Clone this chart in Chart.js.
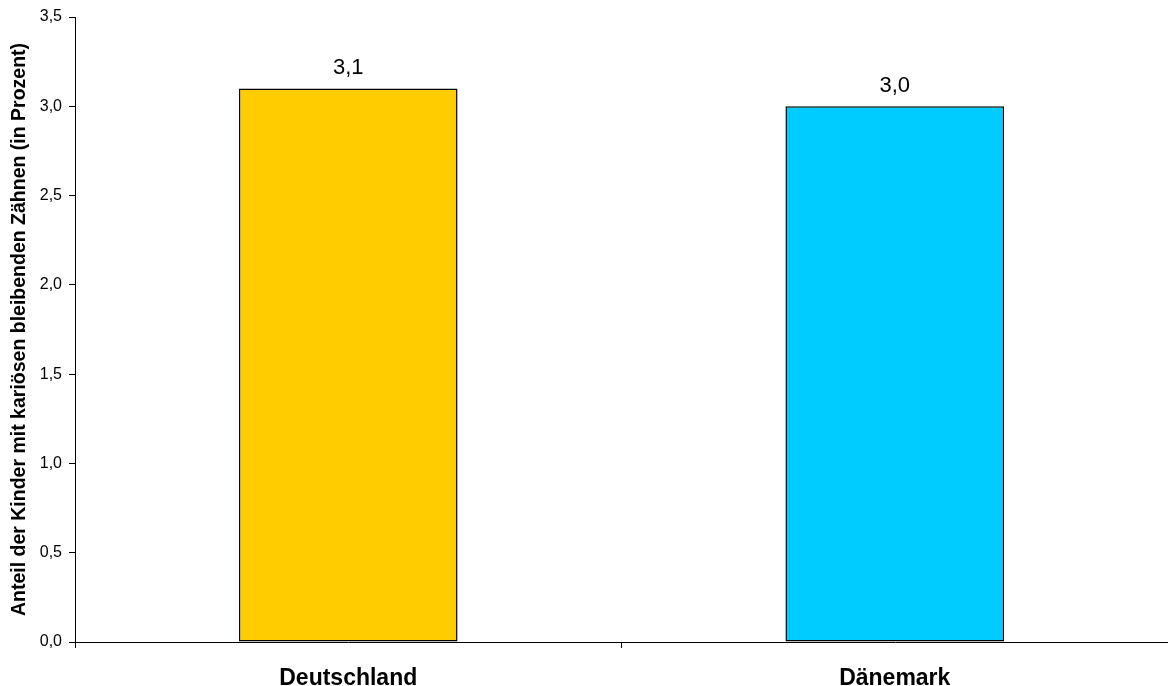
<!DOCTYPE html>
<html>
<head>
<meta charset="utf-8">
<script src="https://cdn.jsdelivr.net/npm/chart.js@4"></script>
<style>
  html, body { margin: 0; padding: 0; background: #fff; }
  #wrap { width: 1168px; height: 686px; }
</style>
</head>
<body>
<div id="wrap"><canvas id="chart" width="1168" height="686"></canvas></div>
<script>
// Daten
const countries = ["Deutschland", "Dänemark"];
const shares = [3.1, 3.0];
const barColors = ["#ffcc00", "#00ccff"];
const yTicks = [0, 0.5, 1, 1.5, 2, 2.5, 3, 3.5];
const yTitle = "Anteil der Kinder mit kariösen bleibenden Zähnen (in Prozent)";

const FONT = "'Liberation Sans', Arial, sans-serif";
const fmt = (v) => v.toFixed(1).replace(".", ",");

// Werte über den Balken
const valueLabels = {
  id: "valueLabels",
  afterDatasetsDraw(chart) {
    const ctx = chart.ctx;
    const meta = chart.getDatasetMeta(0);
    ctx.save();
    ctx.font = "22px " + FONT;
    ctx.fillStyle = "#000";
    ctx.textAlign = "center";
    ctx.textBaseline = "alphabetic";
    meta.data.forEach((bar, i) => {
      ctx.fillText(fmt(shares[i]), bar.x, bar.y - 14);
    });
    ctx.restore();
  },
};

new Chart(document.getElementById("chart"), {
  type: "bar",
  data: {
    labels: countries,
    datasets: [
      {
        data: shares,
        backgroundColor: barColors,
        borderColor: "#000",
        borderWidth: 1.5,
        borderSkipped: false,
        categoryPercentage: 0.8,
        barPercentage: 0.5,
      },
    ],
  },
  options: {
    responsive: false,
    animation: false,
    layout: { padding: { top: 17, right: 0, left: 0, bottom: 0 } },
    plugins: {
      legend: { display: false },
      tooltip: { enabled: false },
    },
    scales: {
      x: {
        offset: true,
        grid: {
          offset: true,
          drawOnChartArea: false,
          drawTicks: true,
          tickLength: 6,
          color: "#000",
        },
        border: { color: "#000", width: 1 },
        ticks: {
          color: "#000",
          font: { family: FONT, size: 23, weight: "bold" },
          padding: 17,
        },
        afterFit(scale) { scale.height = 44; },
      },
      y: {
        min: 0,
        max: 3.5,
        afterBuildTicks(scale) {
          scale.ticks = yTicks.map((v) => ({ value: v }));
        },
        grid: {
          drawOnChartArea: false,
          drawTicks: true,
          tickLength: 6,
          color: "#000",
        },
        border: { color: "#000", width: 1 },
        ticks: {
          color: "#000",
          font: { family: FONT, size: 16 },
          padding: 7,
          callback: (v) => fmt(v),
        },
        title: {
          display: true,
          text: yTitle,
          color: "#000",
          font: { family: FONT, size: 19.5, weight: "bold" },
          padding: { top: 8, bottom: 0 },
        },
        afterFit(scale) { scale.width = 75; },
      },
    },
  },
  plugins: [valueLabels],
});
</script>
</body>
</html>
